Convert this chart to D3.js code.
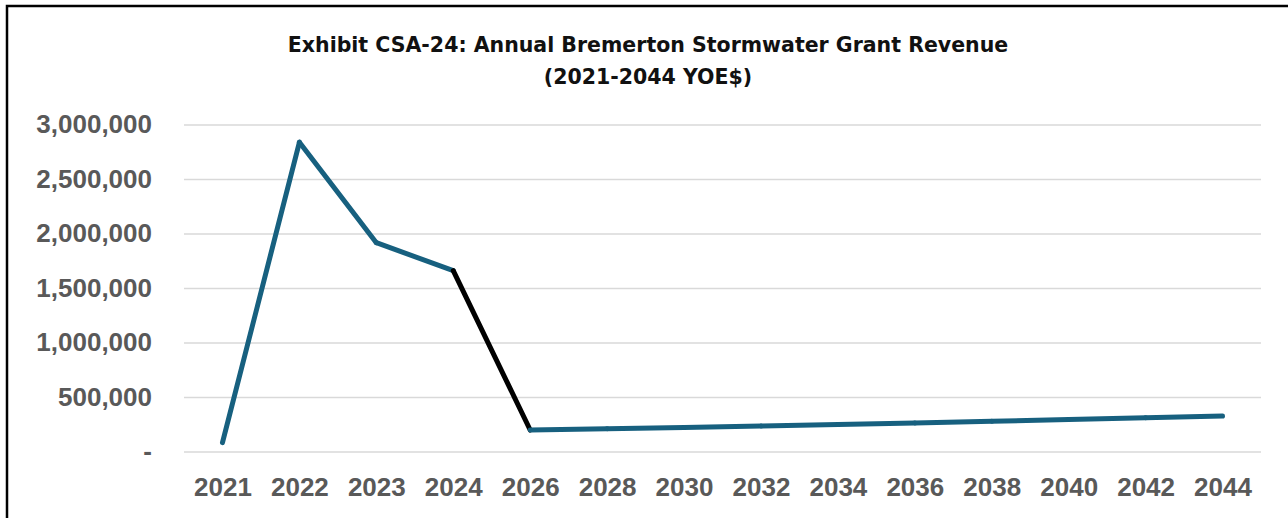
<!DOCTYPE html>
<html>
<head>
<meta charset="utf-8">
<script src="https://cdn.jsdelivr.net/npm/d3@7"></script>
<style>
  html, body { margin: 0; padding: 0; background: #ffffff; }
  svg { display: block; }
</style>
</head>
<body>
<svg id="chart" width="1288" height="518"></svg>
<script>

//*************************************************//
// Chart data
//*************************************************//
var years = ["2021", "2022", "2023", "2024", "2026", "2028", "2030",
             "2032", "2034", "2036", "2038", "2040", "2042", "2044"];

var revenue = [81000, 2837000, 1916000, 1659000, 197000, 209000, 221000,
               234000, 248000, 262000, 277000, 293000, 309000, 326000];

// Segment colours (segment i joins point i and i + 1)
var segmentColors = ["#17607f", "#17607f", "#17607f", "#000000", "#17607f",
                     "#17607f", "#17607f", "#17607f", "#17607f", "#17607f",
                     "#17607f", "#17607f", "#17607f"];

var yTicks = [0, 500000, 1000000, 1500000, 2000000, 2500000, 3000000];

var titleLines = ["Exhibit CSA-24: Annual Bremerton Stormwater Grant Revenue",
                  "(2021-2044 YOE$)"];


//*************************************************//
// Layout
//*************************************************//
var svg = d3.select("#chart");

var plot = { left: 184, right: 1261, top: 124.5, bottom: 451.5 };

// Outer frame (runs off the right and bottom edge)
svg.append("rect")
    .attr("x", 7)
    .attr("y", 6)
    .attr("width", 1400)
    .attr("height", 600)
    .attr("fill", "#ffffff")
    .attr("stroke", "#000000")
    .attr("stroke-width", 2.5);

// Title
svg.append("g")
    .selectAll("text")
    .data(titleLines)
    .enter()
    .append("text")
    .attr("x", 648)
    .attr("y", function(d, i) { return 52 + i * 32; })
    .attr("text-anchor", "middle")
    .attr("font-family", "'DejaVu Sans', 'Noto Sans', sans-serif")
    .attr("font-weight", 700)
    .attr("font-size", "20.5px")
    .attr("fill", "#111111")
    .text(function(d) { return d; });


//*************************************************//
// Scales
//*************************************************//
var x = d3.scalePoint()
    .domain(years)
    .range([plot.left, plot.right])
    .padding(0.5);

var y = d3.scaleLinear()
    .domain([0, 3000000])
    .range([plot.bottom, plot.top]);


//*************************************************//
// Gridlines
//*************************************************//
var grid = svg.append("g")
    .attr("transform", "translate(" + plot.left + ",0)")
    .call(d3.axisLeft(y)
        .tickValues(yTicks)
        .tickSize(-(plot.right - plot.left))
        .tickFormat(""));

grid.select(".domain").remove();
grid.selectAll("line")
    .attr("stroke", "#d9d9d9")
    .attr("stroke-width", 1.5);


//*************************************************//
// Axes
//*************************************************//
var yAxis = svg.append("g")
    .attr("transform", "translate(" + plot.left + ",0)")
    .call(d3.axisLeft(y)
        .tickValues(yTicks)
        .tickSize(0)
        .tickPadding(32)
        .tickFormat(function(d) { return d === 0 ? "-" : d3.format(",")(d); }));

yAxis.select(".domain").remove();

var xAxis = svg.append("g")
    .attr("transform", "translate(0," + plot.bottom + ")")
    .call(d3.axisBottom(x)
        .tickSize(0)
        .tickPadding(26));

xAxis.select(".domain").remove();

svg.selectAll(".tick text")
    .attr("font-family", "'Liberation Sans', Arial, sans-serif")
    .attr("font-weight", 700)
    .attr("font-size", "26px")
    .attr("fill", "#595959");


//*************************************************//
// Line (drawn segment by segment, in order)
//*************************************************//
var points = years.map(function(d, i) { return [x(d), y(revenue[i])]; });

svg.append("g")
    .selectAll("path")
    .data(d3.pairs(points))
    .enter()
    .append("path")
    .attr("d", function(d) { return d3.line()(d); })
    .attr("fill", "none")
    .attr("stroke", function(d, i) { return segmentColors[i]; })
    .attr("stroke-width", 5)
    .attr("stroke-linecap", "round")
    .attr("stroke-linejoin", "round");

</script>
</body>
</html>
